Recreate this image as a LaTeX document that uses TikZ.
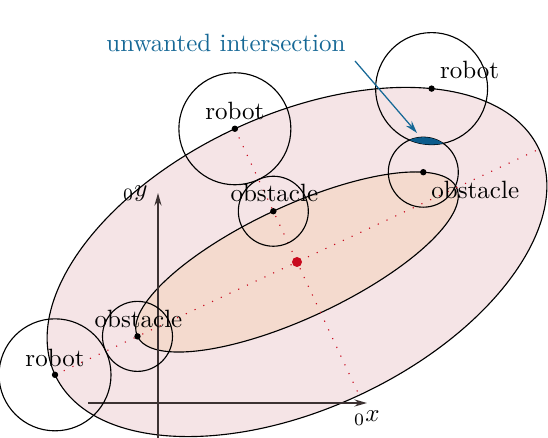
\documentclass[tikz,border=0pt]{standalone}
\usetikzlibrary{calc,arrows.meta}
\definecolor{outerfill}{RGB}{245,228,230}
\definecolor{innerfill}{RGB}{244,218,206}
\definecolor{lensblue}{RGB}{12,92,140}
\definecolor{txtblue}{RGB}{22,104,150}
\definecolor{axisgray}{RGB}{60,50,50}
\definecolor{dotred}{RGB}{200,10,30}
\begin{document}
\begin{tikzpicture}[x=0.4pt,y=0.4pt,
  ell/.style={draw=black, line width=0.45pt},
  circ/.style={draw=black, line width=0.45pt},
  axisline/.style={draw=axisgray, line width=0.8pt, -{Stealth[length=5pt,width=2.8pt]}},
  redaxis/.style={draw=dotred, line width=0.45pt, dash pattern=on 0.45pt off 3.4pt},
  pt/.style={fill=black},
  lbl/.style={anchor=base, inner sep=0pt, font=\normalsize}]
\useasboundingbox (0,0) rectangle (548,438);
\coordinate (C) at (297,176);
\begin{scope}[shift={(C)}, rotate=25]
  \path[ell, fill=outerfill] (0,0) ellipse [x radius=267, y radius=147];
  \path[ell, fill=innerfill] (0,0) ellipse [x radius=176, y radius=56];
  \coordinate (R1) at (0,147);
  \coordinate (R2) at (43:267 and 147);
  \coordinate (R3) at (-267,0);
  \coordinate (O1) at (0,56);
  \coordinate (O2) at (30:176 and 56);
  \coordinate (O3) at (-176,0);
  \coordinate (MA) at (-267,0);
  \coordinate (MB) at (267,0);
  \coordinate (NA) at (0,147);
  \coordinate (NB) at (0,-147);
\end{scope}
% axes
\coordinate (yb) at (158,0);
\coordinate (yt) at (158,245);
\coordinate (xl) at (88,35);
\coordinate (xr) at (367,35);
\draw[axisline] (yb) -- (yt);
\draw[axisline] (xl) -- (xr);
\node[lbl, anchor=base east] (ly) at ($(yt)+(-10,-4)$) {${}_{0}y$};
\node[lbl] (lx) at ($(xr)+(0,-19)$) {${}_{0}x$};
% principal axes
\draw[redaxis] (MA) -- (MB);
\draw[redaxis] (NA) -- (NB);
% circles
\draw[circ] (R1) circle [radius=56];
\draw[circ] (R2) circle [radius=56];
\draw[circ] (R3) circle [radius=56];
\draw[circ] (O1) circle [radius=35];
\draw[circ] (O2) circle [radius=35];
\draw[circ] (O3) circle [radius=35];
% lens
\begin{scope}
  \clip (R2) circle [radius=56];
  \fill[lensblue] (O2) circle [radius=35];
\end{scope}
% points
\fill[dotred] (C) circle [radius=5];
\foreach \p in {R1,R2,R3,O1,O2,O3} \fill[pt] (\p) circle [radius=3.2];
% labels
\node[lbl] (t1) at ($(R1)+(0,9)$) {robot};
\node[lbl] (t2) at ($(R2)+(38,10)$) {robot};
\node[lbl] (t3) at ($(R3)+(0,8)$) {robot};
\node[lbl] (t4) at ($(O1)+(1,10)$) {obstacle};
\node[lbl] (t5) at ($(O2)+(52,-26)$) {obstacle};
\node[lbl] (t6) at ($(O3)+(1,9)$) {obstacle};
% unwanted intersection
\node[lbl, text=txtblue] (ut) at (226,386) {unwanted intersection};
\coordinate (as) at (355,377);
\coordinate (ae) at (417,305);
\draw[txtblue, line width=0.5pt, -{Stealth[length=5pt,width=3pt]}] (as) -- (ae);
\end{tikzpicture}
\end{document}
